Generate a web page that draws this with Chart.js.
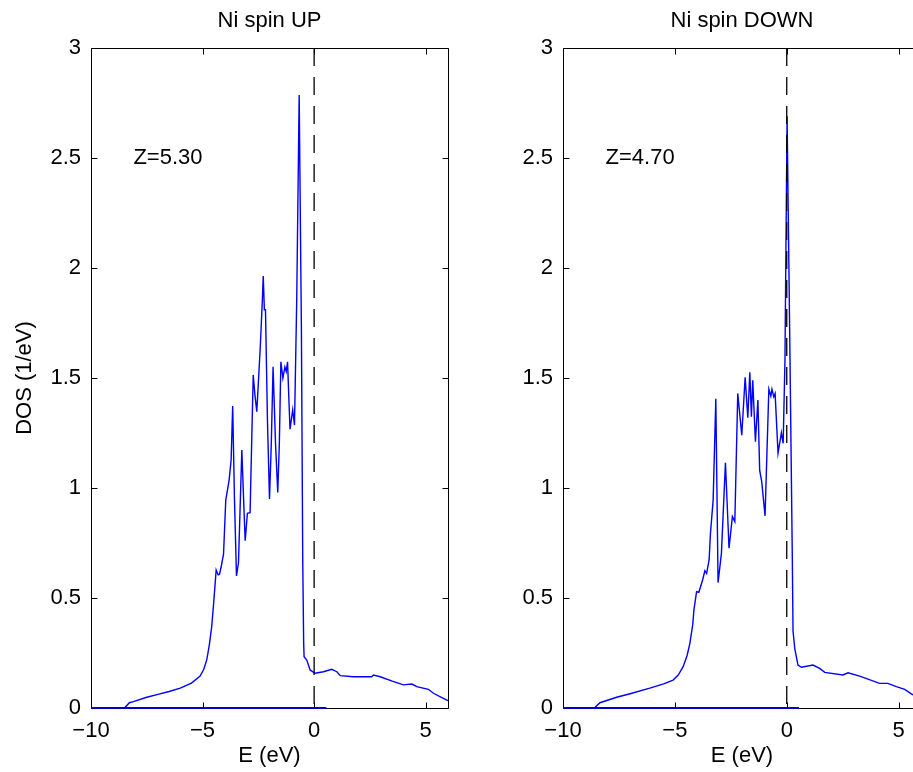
<!DOCTYPE html>
<html><head><meta charset="utf-8">
<script src="https://cdn.jsdelivr.net/npm/chart.js@4.4.1/dist/chart.umd.min.js"></script>
<style>
html,body{margin:0;padding:0;background:#fff;overflow:hidden;width:913px;height:772px;}
#wrap{position:relative;width:913px;height:772px;overflow:hidden;background:#fff;}
canvas{position:absolute;top:0;}
</style></head><body>
<div id="wrap">
<canvas id="c1" width="470" height="772" style="left:0px"></canvas>
<canvas id="c2" width="471" height="772" style="left:472px"></canvas>
</div>
<script>
const titles = ['Ni spin UP', 'Ni spin DOWN'];
const zLabels = ['Z=5.30', 'Z=4.70'];
const xTicks = [-10, -5, 0, 5];
const yTicks = [0, 0.5, 1, 1.5, 2, 2.5, 3];

const upE = [-8.5,-8.28,-8.1,-7.5,-7.0,-6.5,-6.0,-5.5,-5.11,-4.95,-4.81,-4.7,-4.59,-4.5,-4.39,-4.3,-4.24,-4.15,-4.06,-3.96,-3.81,-3.72,-3.65,-3.57,-3.48,-3.39,-3.24,-3.15,-3.09,-2.99,-2.87,-2.73,-2.65,-2.57,-2.42,-2.32,-2.28,-2.23,-2.18,-2.09,-2.0,-1.92,-1.84,-1.73,-1.63,-1.56,-1.49,-1.40,-1.31,-1.25,-1.19,-1.13,-1.08,-0.96,-0.88,-0.78,-0.67,-0.57,-0.51,-0.47,-0.45,-0.33,-0.18,0.04,0.42,0.79,1.02,1.17,1.76,2.58,2.66,2.96,3.5,4.0,4.38,4.6,5.12,5.35,5.7,6.0];
const upDOS = [0,0.024,0.029,0.049,0.062,0.075,0.09,0.113,0.145,0.175,0.22,0.285,0.37,0.48,0.627,0.605,0.608,0.65,0.70,0.945,1.036,1.127,1.373,0.95,0.60,0.66,1.173,0.92,0.76,0.885,0.888,1.514,1.42,1.347,1.627,1.855,1.964,1.81,1.81,1.3,0.95,1.2,1.551,1.2,0.98,1.2,1.574,1.50,1.55,1.53,1.573,1.4,1.267,1.355,1.286,1.855,2.786,1.72,0.67,0.30,0.233,0.218,0.173,0.158,0.165,0.176,0.165,0.147,0.142,0.142,0.15,0.142,0.122,0.105,0.109,0.097,0.085,0.067,0.048,0.034];

const downE = [-8.6,-8.35,-7.6,-7.0,-6.12,-5.5,-5.08,-4.85,-4.63,-4.45,-4.33,-4.2,-4.15,-4.03,-3.93,-3.76,-3.66,-3.58,-3.47,-3.41,-3.29,-3.17,-3.07,-2.92,-2.74,-2.58,-2.43,-2.32,-2.19,-2.01,-1.86,-1.74,-1.65,-1.58,-1.52,-1.40,-1.29,-1.21,-1.12,-0.97,-0.80,-0.71,-0.66,-0.58,-0.52,-0.39,-0.24,-0.16,-0.08,0.015,0.13,0.25,0.28,0.36,0.5,0.66,1.17,1.47,1.70,2.51,2.74,3.26,4.15,4.52,4.90,5.27,5.57,6.0];
const downDOS = [0,0.024,0.049,0.065,0.09,0.11,0.127,0.15,0.188,0.24,0.294,0.38,0.445,0.529,0.526,0.582,0.624,0.612,0.673,0.794,0.945,1.406,0.57,0.703,1.115,0.726,0.87,0.847,1.43,1.24,1.503,1.32,1.526,1.324,1.49,1.21,1.40,1.08,1.03,0.873,1.449,1.418,1.449,1.415,1.43,1.158,1.251,1.203,1.58,2.69,1.72,0.67,0.35,0.27,0.195,0.185,0.195,0.18,0.162,0.15,0.16,0.145,0.112,0.112,0.097,0.085,0.064,0.04];

const fermiE = [0, 0];
const fermiDOS = [3, 0];
const baseE = [-10, 0.55];
const baseDOS = [0, 0];
const zPos = [-8.1, 2.5];

const FF = '"Liberation Sans", Arial, Helvetica, sans-serif';
const FS = 22;
const pts = (xs, ys) => xs.map((x, i) => ({x: x, y: ys[i]}));
const fmt = v => (v < 0 ? '\u2212' + Math.abs(v) : String(v));

const boxPlugin = {
  id: 'boxz',
  afterDatasetsDraw(chart, args, opts) {
    const ctx = chart.ctx, a = chart.chartArea;
    const sx = chart.scales.x, sy = chart.scales.y;
    const L = Math.round(a.left) + 0.5, R = Math.round(a.right) + 0.5;
    const T = Math.round(a.top) + 0.5, B = Math.round(a.bottom) + 0.5;
    ctx.save();
    ctx.strokeStyle = '#000';
    ctx.lineWidth = 1;
    ctx.beginPath();
    ctx.moveTo(L, B); ctx.lineTo(R, B);
    ctx.moveTo(L, T); ctx.lineTo(R, T);
    ctx.moveTo(L, T); ctx.lineTo(L, B);
    ctx.moveTo(R, T); ctx.lineTo(R, B);
    const tl = 6;
    xTicks.forEach(v => {
      const px = Math.round(sx.getPixelForValue(v)) + 0.5;
      ctx.moveTo(px, B); ctx.lineTo(px, B - tl);
      ctx.moveTo(px, T); ctx.lineTo(px, T + tl);
    });
    yTicks.forEach(v => {
      const py = Math.round(sy.getPixelForValue(v)) + 0.5;
      ctx.moveTo(L, py); ctx.lineTo(L + tl, py);
      ctx.moveTo(R, py); ctx.lineTo(R - tl, py);
    });
    ctx.stroke();
    ctx.strokeStyle = '#0000c8';
    ctx.lineWidth = 2;
    ctx.beginPath();
    ctx.moveTo(sx.getPixelForValue(baseE[0]), sy.getPixelForValue(baseDOS[0]));
    ctx.lineTo(sx.getPixelForValue(baseE[1]), sy.getPixelForValue(baseDOS[1]));
    ctx.stroke();
    ctx.fillStyle = '#000';
    ctx.font = FS + 'px ' + FF;
    ctx.textAlign = 'left';
    ctx.textBaseline = 'middle';
    ctx.fillText(opts.text, sx.getPixelForValue(zPos[0]), sy.getPixelForValue(zPos[1]));
    ctx.restore();
  }
};

function makeChart(id, E, D, title, z, showY) {
  return new Chart(document.getElementById(id), {
    type: 'scatter',
    data: {datasets: [
      {data: pts(fermiE, fermiDOS), showLine: true, borderColor: '#000', borderWidth: 1.3, borderDash: [18, 11], pointRadius: 0, order: 0, clip: 4},
      {data: pts(E, D), showLine: true, borderColor: '#0000ff', borderWidth: 1.4, pointRadius: 0, order: 1, clip: 4},
      {data: pts(baseE, baseDOS), showLine: false, borderColor: 'rgba(0,0,0,0)', pointRadius: 0, order: 2, clip: 4}
    ]},
    options: {
      responsive: false, animation: false, devicePixelRatio: 1,
      layout: {padding: {left: 0, right: 22, top: 0, bottom: 0}},
      plugins: {
        legend: {display: false}, tooltip: {enabled: false},
        title: {display: true, fullSize: false, text: title, color: '#000', font: {family: FF, size: FS, weight: 'normal', lineHeight: 1.2}, padding: {top: 8, bottom: 13.6}},
        boxz: {text: z}
      },
      scales: {
        x: {
          type: 'linear', min: -10, max: 6,
          grid: {display: false, drawTicks: false}, border: {display: false},
          afterBuildTicks: s => { s.ticks = xTicks.map(v => ({value: v})); },
          afterFit: s => { s.height = 64; },
          ticks: {color: '#000', font: {family: FF, size: FS}, padding: 10, maxRotation: 0, autoSkip: false, callback: v => fmt(v)},
          title: {display: true, text: 'E (eV)', color: '#000', font: {family: FF, size: FS}, padding: {top: 0, bottom: 3}}
        },
        y: {
          type: 'linear', min: 0, max: 3,
          grid: {display: false, drawTicks: false}, border: {display: false},
          afterBuildTicks: s => { s.ticks = yTicks.map(v => ({value: v})); },
          afterFit: s => { s.width = 91; },
          ticks: {color: '#000', font: {family: FF, size: FS}, padding: 10, autoSkip: false, callback: v => String(v)},
          title: {display: showY, text: 'DOS (1/eV)', color: '#000', font: {family: FF, size: FS}, padding: {top: 12, bottom: 0}}
        }
      }
    },
    plugins: [boxPlugin]
  });
}

makeChart('c1', upE, upDOS, titles[0], zLabels[0], true);
makeChart('c2', downE, downDOS, titles[1], zLabels[1], false);
</script>
</body></html>
